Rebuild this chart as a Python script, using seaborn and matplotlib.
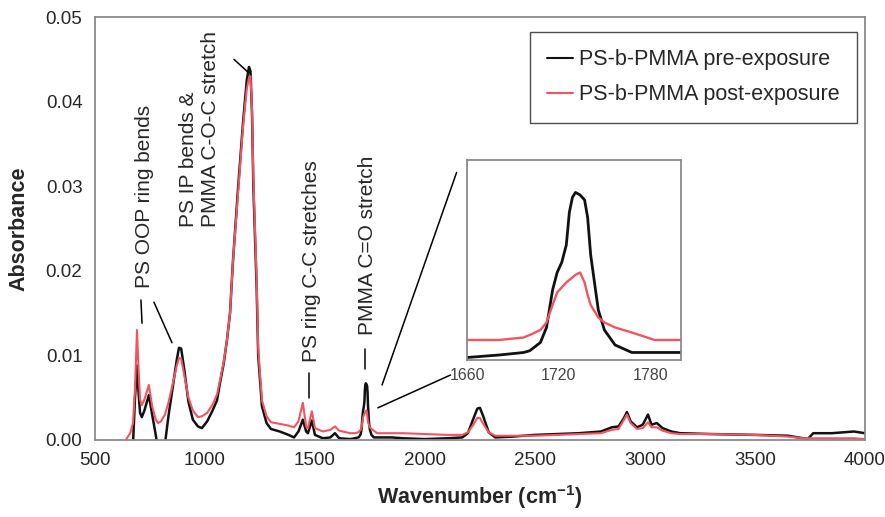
import numpy as np
import pandas as pd
import matplotlib
matplotlib.use("Agg")
import matplotlib.pyplot as plt
from matplotlib.patches import ConnectionPatch
import seaborn as sns

# Spectra (wavenumber in cm-1, absorbance)
wavenumber = [640, 660, 673, 682, 691, 697, 705, 713, 725, 745, 760, 775, 786, 800, 818, 835,
              855, 872, 882, 892, 905, 925, 945, 968, 986, 1010, 1035, 1055, 1068, 1085, 1100,
              1114, 1127, 1150, 1173, 1190, 1200, 1207, 1214, 1220, 1235, 1242, 1259, 1280,
              1300, 1340, 1380, 1405, 1425, 1445, 1460, 1468, 1486, 1500, 1536, 1570, 1591,
              1610, 1660, 1681, 1697, 1701, 1708, 1712, 1716, 1719, 1722, 1725, 1727, 1729,
              1731, 1734, 1737, 1739, 1741, 1746, 1750, 1757, 1768, 1783, 1800, 1850, 1900,
              2000, 2100, 2170, 2195, 2220, 2238, 2250, 2265, 2290, 2320, 2400, 2500, 2600,
              2700, 2800, 2850, 2880, 2905, 2918, 2935, 2964, 2990, 3014, 3030, 3054, 3080,
              3120, 3160, 3300, 3500, 3650, 3720, 3740, 3765, 3850, 3950, 4000]

pre_exposure = [-0.004, -0.003, -0.0005, 0.0050, 0.0088, 0.0060, 0.0032, 0.0027, 0.0035, 0.0053,
                0.0030, 0.0008, -0.0010, -0.0030, -0.0005, 0.0030, 0.0065, 0.0095, 0.0109,
                0.0108, 0.0085, 0.0045, 0.0024, 0.0016, 0.0014, 0.0022, 0.0035, 0.0047, 0.0067,
                0.0090, 0.0118, 0.0150, 0.0210, 0.0296, 0.0375, 0.0425, 0.0441, 0.0436, 0.0385,
                0.0300, 0.0180, 0.0100, 0.0040, 0.0020, 0.0013, 0.0010, 0.0006, 0.0003, 0.0010,
                0.0024, 0.0010, 0.0008, 0.0023, 0.0006, 0.0002, 0.0003, 0.0008, 0.0002, 0.0001,
                0.0002, 0.0003, 0.00037, 0.0007, 0.0013, 0.0028, 0.0035, 0.0039, 0.0046, 0.0059,
                0.0065, 0.0067, 0.0066, 0.0064, 0.0057, 0.0042, 0.0020, 0.0012, 0.0006, 0.0003,
                0.0003, 0.0003, 0.0003, 0.0002, 0.0001, 0.0002, 0.0003, 0.0008, 0.0025, 0.0037,
                0.0038, 0.0028, 0.0009, 0.0003, 0.0004, 0.0006, 0.0007, 0.0008, 0.0010, 0.0015,
                0.0016, 0.0026, 0.0033, 0.0022, 0.0015, 0.0018, 0.0030, 0.0018, 0.0020, 0.0014,
                0.0010, 0.0008, 0.0007, 0.0006, 0.0005, 0.0002, 0.0001, 0.0008, 0.0008, 0.0010,
                0.0008]

post_exposure = [0.0000, 0.0008, 0.0020, 0.0060, 0.0130, 0.0090, 0.0048, 0.0041, 0.0048, 0.0065,
                 0.0040, 0.0025, 0.0020, 0.0022, 0.0030, 0.0045, 0.0068, 0.0088, 0.0097, 0.0096,
                 0.0078, 0.0050, 0.0035, 0.0027, 0.0028, 0.0032, 0.0042, 0.0054, 0.0070, 0.0092,
                 0.0118, 0.0150, 0.0210, 0.0290, 0.0370, 0.0415, 0.0428, 0.0430, 0.0390, 0.0310,
                 0.0190, 0.0108, 0.0047, 0.0028, 0.0021, 0.0019, 0.0017, 0.0015, 0.0022, 0.0044,
                 0.0016, 0.0014, 0.0034, 0.0014, 0.0010, 0.0012, 0.0016, 0.0011, 0.0008, 0.0008,
                 0.0009, 0.0010, 0.0012, 0.0015, 0.0022, 0.0027, 0.0029, 0.0031, 0.0032, 0.0033,
                 0.0034, 0.0035, 0.0031, 0.0026, 0.0022, 0.0017, 0.0015, 0.0013, 0.0011, 0.0008,
                 0.0008, 0.0008, 0.0008, 0.0007, 0.0006, 0.0006, 0.0009, 0.0018, 0.0026, 0.0026,
                 0.0019, 0.0009, 0.0005, 0.0005, 0.0005, 0.0006, 0.0007, 0.0008, 0.0012, 0.0013,
                 0.0024, 0.0030, 0.0020, 0.0013, 0.0014, 0.0021, 0.0015, 0.0015, 0.0011, 0.0008,
                 0.0007, 0.0007, 0.0006, 0.0004, 0.0002, 0.0002, 0.0002, 0.0002, 0.0002, 0.0001]

series_labels = ["PS-b-PMMA pre-exposure", "PS-b-PMMA post-exposure"]
series_colors = ["#111111", "#f4545f"]

df = pd.DataFrame({
    "wavenumber": wavenumber * 2,
    "absorbance": pre_exposure + post_exposure,
    "sample": [series_labels[0]] * len(wavenumber) + [series_labels[1]] * len(wavenumber),
})

sns.set_style("white")
plt.rcParams['font.family'] = ['Liberation Sans', 'DejaVu Sans']
plt.rcParams['mathtext.fontset'] = 'custom'
plt.rcParams['mathtext.rm'] = 'Liberation Sans'
plt.rcParams['mathtext.bf'] = 'Liberation Sans:bold'

fig = plt.figure(figsize=(8.85, 5.17), dpi=100)
ax = fig.add_axes([0.1073, 0.149, 0.870, 0.818])

sns.lineplot(data=df, x="wavenumber", y="absorbance", hue="sample",
             palette=series_colors, sort=False, estimator=None, ax=ax)
for line, lw in zip(ax.get_lines(), [1.8, 1.5]):
    line.set_linewidth(lw)
    line.set_solid_joinstyle("round")

ax.set_xlim(500, 4000)
ax.set_ylim(0, 0.05)
ax.set_xticks(np.arange(500, 4001, 500))
ax.set_yticks(np.arange(0, 0.0501, 0.01))
ax.yaxis.set_major_formatter(plt.FuncFormatter(lambda v, p: f"{v:.2f}"))
ax.tick_params(direction="out", length=5, width=1, color="#777777", labelsize=13.5, pad=4)
for s in ax.spines.values():
    s.set_color("#8a8a8a")
    s.set_linewidth(1.3)
ax.set_xlabel(r"Wavenumber (cm$^{\mathbf{-1}}$)", fontsize=15.5, fontweight="bold", labelpad=10)
ax.set_ylabel("Absorbance", fontsize=15.5, fontweight="bold", labelpad=12)

leg = ax.legend(loc="upper right", bbox_to_anchor=(0.9896, 0.9645), fontsize=15.5,
                frameon=True, fancybox=False, edgecolor="#222222", handlelength=1.2,
                handletextpad=0.3, labelspacing=0.65, borderpad=0.8, borderaxespad=0)
leg.get_frame().set_linewidth(1.0)
for h in leg.get_lines():
    h.set_linewidth(1.5)

# Peak assignments
txt = dict(rotation=90, ha="center", va="bottom", fontsize=15)
ax.text(727, 0.0180, "PS OOP ring bends", **txt)
ax.text(977, 0.0252, "PS IP bends &\nPMMA C-O-C stretch", multialignment="left", **txt)
ax.text(1486, 0.0092, "PS ring C-C stretches", **txt)
ax.text(1741, 0.0124, "PMMA C=O stretch", **txt)

lk = dict(color="black", lw=1.1)
ax.plot([709, 714], [0.01655, 0.0138], **lk)
ax.plot([768, 850], [0.0163, 0.0115], **lk)
ax.plot([1132, 1195], [0.0450, 0.0435], **lk)
ax.plot([1473, 1473], [0.0079, 0.0050], **lk)
ax.plot([1727, 1727], [0.0108, 0.0084], **lk)

# Inset: carbonyl region
axins = fig.add_axes([0.528, 0.3037, 0.241, 0.387])
sns.lineplot(data=df, x="wavenumber", y="absorbance", hue="sample",
             palette=series_colors, sort=False, estimator=None, ax=axins, legend=False)
for line, lw in zip(axins.get_lines(), [2.0, 1.7]):
    line.set_linewidth(lw)
    line.set_solid_joinstyle("round")
axins.set_xlim(1660, 1800)
axins.set_ylim(0, 0.008)
axins.set_xticks([1660, 1720, 1780])
axins.set_yticks(np.arange(0, 0.0081, 0.001))
axins.set_yticklabels([])
axins.set_xlabel("")
axins.set_ylabel("")
axins.tick_params(direction="out", length=3, width=1, color="#777777", labelsize=11.5,
                  labelcolor="#444444", pad=3)
for s in axins.spines.values():
    s.set_color("#8a8a8a")
    s.set_linewidth(1.3)

for xa, ya, xb, yb in [(1805, 0.0065, 1653, 0.0075), (1786, 0.0038, 1649, -0.0006)]:
    con = ConnectionPatch(xyA=(xa, ya), coordsA=ax.transData,
                          xyB=(xb, yb), coordsB=axins.transData,
                          color="black", lw=1.1)
    fig.add_artist(con)

fig.savefig("out.png", dpi=100)
